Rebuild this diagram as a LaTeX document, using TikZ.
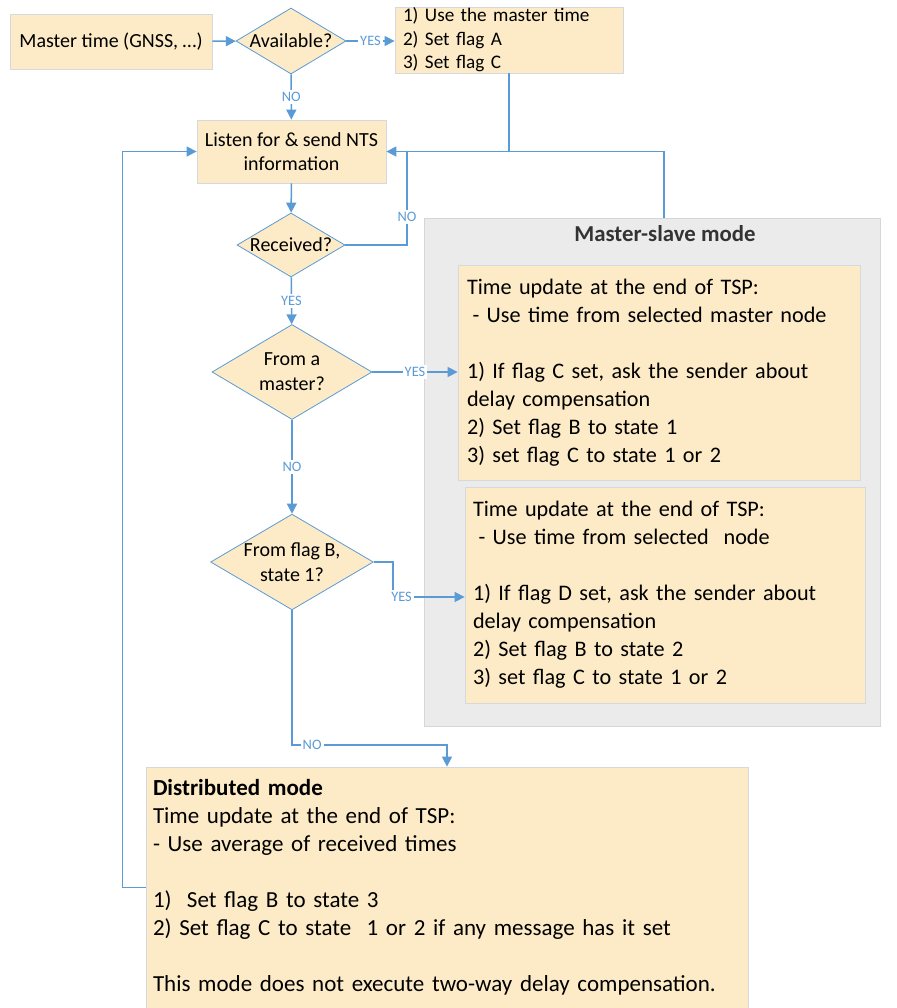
\documentclass[tikz,border=0pt]{standalone}
\usepackage{fontspec}
\setmainfont{Carlito}
\usetikzlibrary{shapes.geometric, arrows.meta, positioning}
\definecolor{boxfill}{HTML}{FCEBC6}
\definecolor{boxline}{HTML}{D5D9DE}
\definecolor{flowblue}{HTML}{5B9BD5}
\definecolor{modefill}{HTML}{EBEBEB}
\definecolor{modeline}{HTML}{D6D6D6}
\tikzset{
	process/.style={
		rectangle,
		draw=boxline,
		fill=boxfill,
		align=center,
		inner sep=0pt,
		font=\fontsize{10}{11.75}\selectfont
	},
	infobox/.style={
		rectangle,
		draw=boxline,
		fill=boxfill,
		align=left,
		inner xsep=4.5pt,
		inner ysep=0pt,
		font=\fontsize{11.1}{14}\selectfont
	},
	decision/.style={
		diamond,
		aspect=1.7,
		draw=flowblue,
		fill=boxfill,
		align=center,
		inner sep=0pt,
		font=\fontsize{10}{12.5}\selectfont
	},
	modebox/.style={
		rectangle,
		draw=modeline,
		fill=modefill
	},
	lbl/.style={fill=white, inner sep=1pt, text=flowblue, font=\fontsize{7.2}{8}\selectfont},
	line/.style={line width=0.75pt, draw=flowblue},
	arrow/.style={line, -{Triangle[length=5pt,width=5pt]}}
}

\begin{document}
\begin{tikzpicture}[x=0.5pt, y=-0.5pt]
	\useasboundingbox (0,0) rectangle (896,1008);
	% master-slave group in the background
	\node (modebox) [modebox, minimum width=228pt, minimum height=254pt] at (652,472) {};
	\node (mstitle) [font=\bfseries\fontsize{11.4}{14}\selectfont, text=black!80] at (665,234) {Master-slave mode};

	\node (master) [process, minimum width=101pt, minimum height=27.5pt] at (111,41.5) {Master time (GNSS, …)};
	\node (avail) [decision, minimum width=55pt, minimum height=33pt] at (291,41) {Available?};
	\node (usemaster) [process, align=left, inner xsep=4pt, text width=106pt, minimum height=33pt, font=\fontsize{9.6}{11.75}\selectfont] at (509,40) {1) Use the master time\\2) Set flag A\\3) Set flag C};
	\node (listen) [process, minimum width=94.5pt, minimum height=31.5pt] at (291.5,151.5) {Listen for \& send NTS\\information};
	\node (recv) [decision, minimum width=54pt, minimum height=32pt] at (291,245) {Received?};
	\node (frommaster) [decision, minimum width=80pt, minimum height=47.5pt] at (292,372) {From a\\master?};
	\node (fromb) [decision, minimum width=80pt, minimum height=47.5pt] at (292,562) {From flag B,\\state 1?};

	\node (ms1) [infobox, text width=192pt, minimum height=107.5pt] at (659,372.5) {Time update at the end of TSP:\\
		\hspace{0.25em}- Use time from selected master node\\[14pt]
		1) If flag C set, ask the sender about\\
		delay compensation\\
		2) Set flag B to state 1\\
		3) set flag C to state 1 or 2};
	\node (ms2) [infobox, inner xsep=4pt, text width=192pt, minimum height=108pt] at (665,595) {Time update at the end of TSP:\\
		\hspace{0.25em}- Use time from selected~ node\\[14pt]
		1) If flag D set, ask the sender about\\
		delay compensation\\
		2) Set flag B to state 2\\
		3) set flag C to state 1 or 2};
	\node (dist) [infobox, inner xsep=3.5pt, text width=294pt, minimum height=120.5pt, font=\fontsize{11.5}{14}\selectfont] at (447,887.5) {\textbf{Distributed mode}\\
		Time update at the end of TSP:\\
		- Use average of received times\\[14pt]
		1)~ Set flag B to state 3\\
		2) Set flag C to state~ 1 or 2 if any message has it set\\[14pt]
		This mode does not execute two-way delay compensation.};

	\coordinate (nojoin) at (407,151.5);
	\coordinate (mstop) at (664,218);
	\coordinate (yesbend) at (393,597);
	\coordinate (nobend) at (447,745);

	\draw [arrow] (master) -- (avail);
	\draw [arrow] (avail.east) -- node[lbl] {YES} (avail.east -| usemaster.west);
	\draw [arrow] (avail) -- node[lbl] {NO} (listen);
	\draw [arrow] (listen) -- (recv);
	\draw [arrow] (recv.east) -| node[lbl, pos=0.65] {NO} (nojoin) -- (listen.east);
	\draw [line] (usemaster.south) -- (usemaster.south |- nojoin);
	\draw [line] (mstop) |- (nojoin);
	\draw [arrow] (recv) -- node[lbl] {YES} (frommaster);
	\draw [arrow] (frommaster.east) -- node[lbl] {YES} (frommaster.east -| ms1.west);
	\draw [arrow] (frommaster) -- node[lbl] {NO} (fromb);
	\draw [arrow] (fromb.east) -| (yesbend) -- node[lbl, pos=0.12] {YES} (yesbend -| ms2.west);
	\draw [arrow] (fromb.south) |- node[lbl, pos=0.565] {NO} (nobend) -- (dist.north);
	\draw [arrow] (dist.west) -- ++(-23,0) |- (listen.west);
\end{tikzpicture}
\end{document}
